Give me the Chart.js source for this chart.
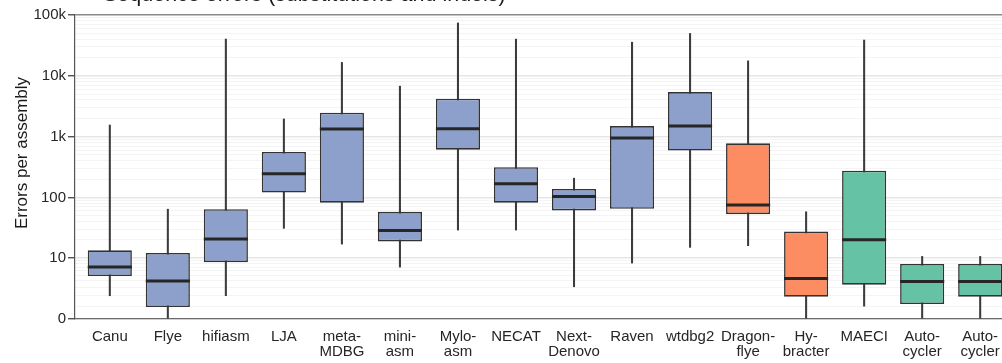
<!DOCTYPE html>
<html>
<head>
<meta charset="utf-8">
<script src="https://cdn.jsdelivr.net/npm/chart.js@4.4.1/dist/chart.umd.min.js"></script>
<style>
  html, body { margin: 0; padding: 0; overflow: hidden; background: #fff; }
  #wrap { width: 1016px; height: 363px; }
</style>
</head>
<body>
<div id="wrap"><canvas id="c" width="1016" height="363"></canvas></div>
<script>
// Assemblers on the x axis (multi-line labels as arrays)
const categories = ['Canu', 'Flye', 'hifiasm', 'LJA', ['meta-', 'MDBG'], ['mini-', 'asm'],
  ['Mylo-', 'asm'], 'NECAT', ['Next-', 'Denovo'], 'Raven', 'wtdbg2', ['Dragon-', 'flye'],
  ['Hy-', 'bracter'], 'MAECI', ['Auto-', 'cycler'], ['Auto-', 'cycler']];

// Assembler type, sets the fill colour of each box
const groups = ['long', 'long', 'long', 'long', 'long', 'long', 'long', 'long', 'long', 'long', 'long',
  'hybrid', 'hybrid', 'consensus', 'consensus', 'consensus'];

// Box statistics: errors per assembly
const whiskerLow  = [2.0, 0, 2.0, 31, 17, 7.0, 29, 29, 3.1, 8.2, 15, 16, 0, 1.0, 0, 0];
const q1          = [4.9, 0.94, 8.5, 120, 82, 18.8, 610, 82, 61, 65, 590, 53, 1.9, 3.4, 1.2, 1.9];
const median      = [7.0, 4.0, 20.6, 246, 1330, 28.5, 1350, 167, 103, 950, 1490, 75, 4.4, 20, 3.9, 3.9];
const q3          = [13.4, 12.1, 64, 560, 2470, 58, 4190, 313, 138, 1490, 5400, 776, 27.4, 275, 7.9, 7.9];
const whiskerHigh = [1550, 64, 40000, 1950, 16600, 6760, 74000, 40100, 207, 35700, 49700, 17600, 58, 38600, 10.6, 10.6];

// y-axis labelled breaks
const tickValues = [0, 10, 100, 1000, 10000, 100000];
const tickLabels = ['0', '10', '100', '1k', '10k', '100k'];

const palette = { long: '#8da0cb', hybrid: '#fc8d62', consensus: '#66c2a5' };

// pseudo-log transform (keeps zero on the axis)
const LN10 = Math.log(10);
const tval = v => Math.asinh(v / 2) / LN10;

const FONT = '"Liberation Sans", Arial, Helvetica, sans-serif';
const xs = categories.map((_, i) => i);

const boxData = xs.map(i => ({ x: i, y: [tval(q1[i]), tval(q3[i])] }));
const whiskerData = xs.map(i => ({ x: i, y: [tval(whiskerLow[i]), tval(whiskerHigh[i])] }));

// Minor breaks: 1..9 below 10, then 2..9 within each decade
function minorValues() {
  const out = [];
  for (let k = 1; k <= 9; k++) out.push(k);
  for (let d = 10; d < 100000; d *= 10) for (let k = 2; k <= 9; k++) out.push(k * d);
  return out;
}

const boxExtras = {
  id: 'boxExtras',
  afterDatasetsDraw(chart) {
    const ctx = chart.ctx;
    const y = chart.scales.y;
    const meta = chart.getDatasetMeta(0);
    ctx.save();
    ctx.strokeStyle = '#262626';
    ctx.lineWidth = 3;
    meta.data.forEach((bar, i) => {
      const py = y.getPixelForValue(tval(median[i]));
      ctx.beginPath();
      ctx.moveTo(bar.x - bar.width / 2, py);
      ctx.lineTo(bar.x + bar.width / 2, py);
      ctx.stroke();
    });
    ctx.restore();
  },
  afterDraw(chart) {
    const ctx = chart.ctx;
    const area = chart.chartArea;
    ctx.save();
    ctx.fillStyle = '#1a1a1a';
    ctx.font = '21.5px ' + FONT;
    ctx.textAlign = 'left';
    ctx.textBaseline = 'alphabetic';
    ctx.fillText('Sequence errors (substitutions and indels)', area.left + 28, 1);
    ctx.translate(27, (area.top + area.bottom) / 2 - 14);
    ctx.rotate(-Math.PI / 2);
    ctx.textAlign = 'center';
    ctx.textBaseline = 'alphabetic';
    ctx.font = '17px ' + FONT;
    ctx.fillText('Errors per assembly', 0, 0);
    ctx.restore();
  }
};

new Chart(document.getElementById('c'), {
  type: 'bar',
  data: {
    datasets: [
      {
        data: boxData,
        grouped: false,
        backgroundColor: groups.map(g => palette[g]),
        borderColor: '#333333',
        borderWidth: 1.6,
        borderSkipped: false,
        categoryPercentage: 1,
        barPercentage: 0.76
      },
      {
        data: whiskerData,
        grouped: false,
        backgroundColor: '#3c3c3c',
        borderWidth: 0,
        barThickness: 1.4
      }
    ]
  },
  options: {
    responsive: false,
    animation: false,
    devicePixelRatio: 1,
    layout: { padding: { top: 15, left: 0, right: 1, bottom: 0 } },
    plugins: { legend: { display: false }, tooltip: { enabled: false }, title: { display: false } },
    scales: {
      x: {
        type: 'linear',
        offset: false,
        min: -0.6,
        max: categories.length - 1 + 0.6,
        afterBuildTicks(scale) { scale.ticks = xs.map(v => ({ value: v })); },
        afterFit(scale) { scale.height = 44; },
        grid: { display: false, drawTicks: false },
        border: { display: true, color: '#6b6b6b', width: 1.2 },
        ticks: {
          autoSkip: false,
          maxRotation: 0,
          padding: 10,
          color: '#262626',
          font: { family: FONT, size: 15, lineHeight: 1.02 },
          callback: (v) => categories[Math.round(v)]
        }
      },
      y: {
        type: 'linear',
        min: 0,
        max: tval(100000),
        afterBuildTicks(scale) {
          const ticks = tickValues.map((v, i) => ({ value: tval(v), label: tickLabels[i], minor: false }));
          minorValues().forEach(v => ticks.push({ value: tval(v), label: '', minor: true }));
          ticks.sort((a, b) => a.value - b.value);
          scale.ticks = ticks;
        },
        afterFit(scale) { scale.width = 75; },
        grid: {
          drawTicks: true,
          tickLength: 7,
          tickWidth: 1.2,
          tickColor: (c) => (c.tick && !c.tick.minor ? '#333333' : 'rgba(0,0,0,0)'),
          color: (c) => {
            if (!c.tick) return '#ebebeb';
            if (c.tick.minor) return '#f4f4f4';
            if (Math.abs(c.tick.value - tval(100000)) < 1e-9) return '#8a8a8a';
            return '#e6e6e6';
          },
          lineWidth: (c) => {
            if (!c.tick) return 1;
            if (c.tick.minor) return 1;
            if (Math.abs(c.tick.value - tval(100000)) < 1e-9) return 1.6;
            return 1.5;
          }
        },
        border: { display: true, color: '#555555', width: 1.2 },
        ticks: {
          autoSkip: false,
          padding: 2,
          color: '#262626',
          font: { family: FONT, size: 15 },
          callback: (v, i, ticks) => (ticks[i] && !ticks[i].minor ? ticks[i].label : '')
        }
      }
    }
  },
  plugins: [boxExtras]
});
</script>
</body>
</html>
